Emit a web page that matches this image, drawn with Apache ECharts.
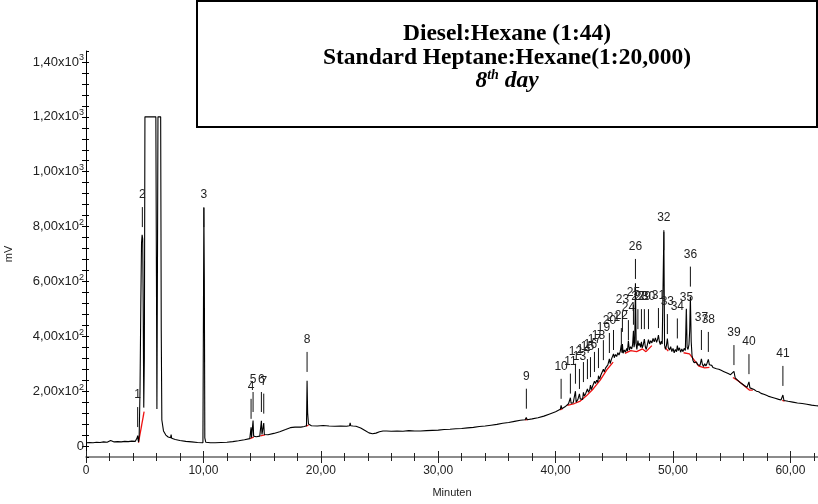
<!DOCTYPE html>
<html><head><meta charset="utf-8">
<script src="https://cdn.jsdelivr.net/npm/echarts/dist/echarts.min.js"></script>
<style>html,body{margin:0;padding:0;background:#fff}#c{width:818px;height:504px}</style>
</head><body><div id="c"></div>
<script>
// ---- Data (time in minutes, signal in mV) ----
const baselineStart = [[0,12],[0.3,13],[0.6,12],[0.9,14],[1.2,13],[1.5,15],[1.8,14],[2.1,20],[2.15,14],[2.4,15],[2.7,16],[3.0,15],[3.3,17],[3.6,16],[3.9,18],[4.2,17],[4.3,16]];
const solventRegion = [[4.36,30],[4.40,38],[4.44,22],[4.48,14],[4.53,40],[4.60,200],[4.67,520],[4.73,740],[4.78,770],[4.83,755],[4.87,520],[4.92,140],[4.97,320],[5.02,1200],[5.95,1200],[6.00,620],[6.04,135],[6.09,700],[6.13,1200],[6.36,1200],[6.41,420],[6.46,95],[6.6,55],[6.8,40],[7.0,33],[7.2,30],[7.25,42],[7.3,28],[7.6,24],[8.0,20],[8.5,17],[9.0,15],[9.5,13],[9.96,12]];
const peak3Region = [[10.0,14],[10.04,868],[10.08,600],[10.12,30],[10.2,14],[10.6,12],[11.0,12],[11.5,13],[12.0,14],[12.5,16],[13.0,19],[13.5,23],[13.95,27]];
const midRegion = [[14.02,28],[14.06,68],[14.1,30],[14.18,33],[14.23,93],[14.28,36],[14.5,34],[14.8,36],[14.89,38],[14.94,92],[14.99,42],[15.09,42],[15.14,84],[15.19,42],[15.5,41],[16.0,46],[16.5,52],[17.0,60],[17.4,67],[17.8,69],[18.3,69],[18.6,71],[18.78,74],[18.83,238],[18.88,120],[18.95,80],[19.2,74],[19.7,73],[20.2,75],[20.7,73],[21.2,72],[21.7,73],[22.2,72],[22.45,74],[22.5,84],[22.55,74],[22.7,80],[22.75,73],[23.0,72],[23.4,66],[23.8,56],[24.1,48],[24.4,45],[24.7,47],[25.0,52],[25.3,55],[25.6,55],[26.0,54],[26.5,55],[27.0,54],[27.5,56],[28.0,55],[28.5,55],[29.0,56],[29.5,57],[30.0,58],[30.5,60],[31.0,61],[31.5,63],[32.0,64],[32.5,66],[33.0,68],[33.5,71],[34.0,73],[34.5,76],[35.0,79],[35.5,83],[36.0,86],[36.5,90],[37.0,94],[37.4,96],[37.5,104],[37.58,96],[38.0,99],[38.5,103],[39.0,109],[39.5,117],[40.0,125],[40.4,134],[40.47,148],[40.53,136],[40.8,143],[41.1,154],[41.26,176],[41.32,156],[41.5,158],[41.69,200],[41.75,160]];
const humpRegion = [[41.8,162],[41.9,170],[42.0,164],[42.03,190],[42.1,172],[42.2,178],[42.3,170],[42.37,196],[42.45,182],[42.55,190],[42.65,184],[42.71,208],[42.8,196],[42.9,204],[42.97,222],[43.05,206],[43.15,218],[43.25,212],[43.31,236],[43.4,228],[43.5,240],[43.6,232],[43.65,256],[43.75,244],[43.85,258],[43.95,252],[44.07,280],[44.15,270],[44.25,284],[44.35,278],[44.45,296],[44.58,318],[44.65,300],[44.75,316],[44.85,310],[44.93,336],[45.0,322],[45.1,334],[45.2,326],[45.3,340],[45.4,332],[45.5,344],[45.6,368],[45.65,340],[45.69,372],[45.75,338],[45.85,350],[45.95,342],[46.05,356],[46.12,346],[46.2,384],[46.28,350],[46.38,362],[46.48,354],[46.56,370],[46.63,420],[46.68,360],[46.74,376],[46.8,593],[46.86,372],[46.92,352],[47.01,384],[47.08,366],[47.16,374],[47.24,360],[47.31,380],[47.38,358],[47.46,368],[47.56,390],[47.64,362],[47.72,352],[47.8,366],[47.91,388],[48.0,372],[48.1,384],[48.2,376],[48.3,392],[48.4,380],[48.5,394],[48.6,378],[48.68,388],[48.76,404],[48.84,380],[48.92,370],[49.0,382],[49.08,372],[49.15,376],[49.22,781],[49.28,368],[49.36,352],[49.44,366],[49.52,392],[49.6,358],[49.7,350],[49.8,362],[49.9,344],[50.0,356],[50.1,340],[50.2,352],[50.3,344],[50.37,366],[50.45,348],[50.55,358],[50.65,342],[50.75,354],[50.85,344],[50.95,356],[51.05,348],[51.14,500],[51.2,360],[51.28,352],[51.36,370],[51.42,420],[51.48,544],[51.55,380],[51.62,330],[51.7,312],[51.8,304],[51.9,298],[52.0,306],[52.1,296],[52.2,302],[52.3,294],[52.42,318],[52.5,298],[52.6,290],[52.7,300],[52.8,292],[52.9,302],[53.01,316],[53.1,296],[53.2,290],[53.3,294],[53.4,286],[53.5,290]];
const tailRegion = [[53.7,282],[53.9,280],[54.1,276],[54.3,272],[54.5,268],[54.7,264],[54.9,260],[55.05,256],[55.19,272],[55.3,248],[55.5,240],[55.7,232],[55.9,226],[56.1,220],[56.3,214],[56.47,234],[56.55,212],[56.7,208],[56.9,206],[57.1,200],[57.2,206],[57.3,198],[57.5,192],[57.8,188],[58.1,182],[58.4,178],[58.7,174],[59.0,170],[59.2,168],[59.36,186],[59.45,166],[59.8,163],[60.2,160],[60.6,157],[61.0,155],[61.4,152],[61.8,149],[62.2,147],[62.4,146]];

// integration baseline pieces (red)
const baselineSegments = [
  [[4.47,12],[4.95,125]],
  [[13.98,27],[14.3,33]],
  [[14.85,37],[15.25,41]],
  [[18.74,72],[18.95,76]],
  [[37.4,95],[37.6,96]],
  [[40.4,132],[40.6,137]],
  [[41.0,148],[41.6,155],[42.1,164],[42.6,182],[43.2,208],[43.8,240],[44.4,280],[44.9,306]],
  [[45.9,338],[46.4,348],[46.9,344],[47.4,354],[47.7,344],[48.2,366]],
  [[49.3,360],[49.6,346]],
  [[50.9,340],[51.4,336],[52.2,291],[52.7,285],[53.1,287]],
  [[55.1,250],[55.6,236],[56.5,204],[56.8,204]],
  [[59.3,166],[59.5,164]]
];

// peak annotations
const peakNames = ['1','2','3','4','5','6','7','8','9','10','11','12','13','14','15','16','17','18','19','20','21','22','23','24','25','26','27','28','29','30','31','32','33','34','35','36','37','38','39','40','41'];
const peakTimes = [4.40,4.80,10.04,14.06,14.23,14.94,15.14,18.83,37.51,40.47,41.26,41.69,42.03,42.37,42.71,42.97,43.31,43.65,44.07,44.58,44.93,45.60,45.69,46.20,46.63,46.80,47.01,47.31,47.56,47.91,48.76,49.22,49.52,50.37,51.14,51.48,52.42,53.01,55.19,56.47,59.36];
const peakLabelLevel = [142,871,871,172,197,197,191,343,209,245,264,300,281,306,317,324,343,357,386,412,423,430,489,459,515,682,499,499,499,499,503,787,481,465,498,654,423,416,368,335,292];

const xTickValues = [0,10,20,30,40,50,60];
const yTickValues = [0,200,400,600,800,1000,1200,1400];

// ---- Chart ----
const trace = [].concat(baselineStart, solventRegion, peak3Region, midRegion, humpRegion, tailRegion);
const chart = echarts.init(document.getElementById('c'), null, {renderer:'canvas'});
const FONT = '"Liberation Sans", Arial, sans-serif';
const SERIF = '"Liberation Serif", "Times New Roman", serif';
const X_MIN = 0, X_MAX = 62.35, Y_MIN = -40, Y_MAX = 1440;

function xLabel(v){
  if (xTickValues.indexOf(Math.round(v*1000)/1000) < 0) return '';
  return v === 0 ? '0' : v.toFixed(2).replace('.', ',');
}
function yLabel(v){
  if (yTickValues.indexOf(Math.round(v)) < 0) return '';
  if (v === 0) return '{m|0}';
  const e = v >= 1000 ? 3 : 2;
  const m = (v / Math.pow(10, e)).toFixed(2).replace('.', ',');
  return '{m|' + m + 'x10}{e|' + e + '}';
}

const xBase = {type:'value', min:X_MIN, max:X_MAX, position:'bottom', splitLine:{show:false}};
const yBase = {type:'value', min:Y_MIN, max:Y_MAX, interval:40, position:'left', splitLine:{show:false}};

const series = [{
  type:'line', data: trace, showSymbol:false, symbol:'none', animation:false, z:4,
  lineStyle:{color:'#000', width:1.1}, xAxisIndex:0, yAxisIndex:0
}];
baselineSegments.forEach(function(seg){
  series.push({type:'line', data: seg, showSymbol:false, symbol:'none', animation:false, z:3,
    lineStyle:{color:'#ee1111', width:1.3}, xAxisIndex:0, yAxisIndex:0});
});
series.push({
  type:'custom', xAxisIndex:0, yAxisIndex:0, animation:false, z:5, clip:false,
  data: peakTimes.map(function(t,i){ return [t, peakLabelLevel[i]]; }),
  renderItem: function(params, api){
    const p = api.coord([api.value(0), api.value(1)]);
    return {type:'group', children:[
      {type:'line', shape:{x1:p[0], y1:p[1], x2:p[0], y2:p[1]+20}, style:{stroke:'#111', lineWidth:1}},
      {type:'text', x:p[0], y:p[1]-12, style:{text: peakNames[params.dataIndex], fill:'#222', font:'12px ' + FONT, align:'center', verticalAlign:'middle', textAlign:'center', textVerticalAlign:'middle'}}
    ]};
  }
});

chart.setOption({
  animation:false,
  backgroundColor:'#fff',
  grid:{left:86, right:0, top:51, bottom:47, containLabel:false, outerBoundsMode:'none'},
  xAxis:[
    Object.assign({}, xBase, {interval:2, name:'Minuten', nameLocation:'middle', nameGap:30,
      nameTextStyle:{fontFamily:FONT, fontSize:11, color:'#222'},
      axisLine:{show:true, onZero:false, lineStyle:{color:'#666', width:1.5}},
      axisTick:{show:true, inside:false, length:4, lineStyle:{color:'#222'}},
      axisLabel:{formatter:xLabel, fontFamily:FONT, fontSize:12, color:'#222', margin:8, showMinLabel:true, showMaxLabel:false}}),
    Object.assign({}, xBase, {interval:2,
      axisLine:{show:false, onZero:false}, axisTick:{show:true, inside:true, length:4, lineStyle:{color:'#222'}}, axisLabel:{show:false}}),
    Object.assign({}, xBase, {interval:10,
      axisLine:{show:false, onZero:false}, axisTick:{show:true, inside:false, length:6, lineStyle:{color:'#222'}}, axisLabel:{show:false}}),
    Object.assign({}, xBase, {interval:10,
      axisLine:{show:false, onZero:false}, axisTick:{show:true, inside:true, length:6, lineStyle:{color:'#222'}}, axisLabel:{show:false}})
  ],
  yAxis:[
    Object.assign({}, yBase, {name:'mV', nameLocation:'middle', nameGap:72, nameRotate:90,
      nameTextStyle:{fontFamily:FONT, fontSize:11, color:'#222'},
      axisLine:{show:true, onZero:false, lineStyle:{color:'#000', width:1}},
      axisTick:{show:true, inside:false, length:4, lineStyle:{color:'#000'}},
      axisLabel:{formatter:yLabel, margin:2, showMinLabel:false, showMaxLabel:false,
        rich:{m:{fontFamily:FONT, fontSize:13, color:'#222'}, e:{fontFamily:FONT, fontSize:9, color:'#222', padding:[0,0,8,0]}}}}),
    Object.assign({}, yBase, {axisLine:{show:false, onZero:false}, axisTick:{show:true, inside:true, length:3, lineStyle:{color:'#000'}}, axisLabel:{show:false}})
  ],
  graphic:[
    {type:'rect', z:10, shape:{x:197, y:1, width:620, height:126}, style:{fill:'#fff', stroke:'#000', lineWidth:2}},
    {type:'text', z:11, x:507, y:34, style:{text:'Diesel:Hexane (1:44)', font:'bold 23.5px ' + SERIF, fill:'#000', align:'center', verticalAlign:'middle', textAlign:'center', textVerticalAlign:'middle'}},
    {type:'text', z:11, x:507, y:58, style:{text:'Standard Heptane:Hexane(1:20,000)', font:'bold 23.5px ' + SERIF, fill:'#000', align:'center', verticalAlign:'middle', textAlign:'center', textVerticalAlign:'middle'}},
    {type:'text', z:11, x:507, y:81, style:{text:'{a|8}{b|th}{a| day}', align:'center', verticalAlign:'middle', textAlign:'center', textVerticalAlign:'middle',
      rich:{a:{font:'italic bold 23.5px ' + SERIF, fill:'#000', color:'#000'}, b:{font:'italic bold 14px ' + SERIF, fill:'#000', color:'#000', padding:[0,0,11,0]}}}}
  ],
  series: series
});
</script>
</body></html>
